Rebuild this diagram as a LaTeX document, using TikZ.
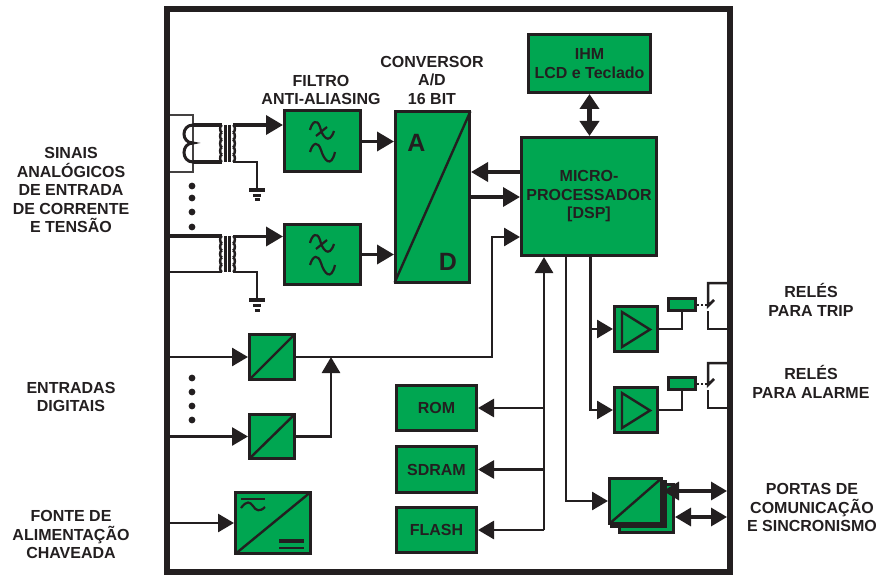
\documentclass[tikz,border=0pt]{standalone}
\usepackage{fontspec}
\setmainfont{Liberation Sans}
\usetikzlibrary{arrows.meta}
\definecolor{verde}{HTML}{00A651}
\definecolor{preto}{HTML}{231F20}
\tikzset{
	bloco/.style={draw=preto, fill=verde, line width=3pt, inner sep=0pt, text=preto, align=center, font=\fontsize{16}{18.5}\selectfont\bfseries},
	rotulo/.style={text=preto, align=center, inner sep=0pt, font=\fontsize{16}{18.5}\selectfont\bfseries},
	fio/.style={draw=preto, line width=2.8pt},
	fino/.style={draw=preto, line width=2.5pt},
	seta/.style={fio, -{Triangle[length=16pt,width=18pt]}},
	setagrande/.style={fio, line width=3.6pt, -{Triangle[length=17pt,width=19pt]}},
	setadupla/.style={fio, line width=3.4pt, {Triangle[length=16pt,width=18pt]}-{Triangle[length=16pt,width=18pt]}},
	diag/.style={draw=preto, line width=2.4pt, shorten <=1.5pt, shorten >=1.5pt},
	ponto/.style={circle, fill=preto, inner sep=0pt, minimum size=6.8pt},
}
\begin{document}
\begin{tikzpicture}[x=1pt, y=-1pt]
	\useasboundingbox (0,0) rectangle (879,575);
	%Quadro externo
	\node[draw=preto, line width=6pt, inner sep=0pt, minimum width=563pt, minimum height=562pt] (QUADRO) at (448.5,290.5) {};
	%Blocos do diagrama
	\node[bloco, minimum width=76pt, minimum height=61pt] (FILT1) at (322.5,141.5) {};
	\node[bloco, minimum width=76pt, minimum height=60pt] (FILT2) at (322.5,254.5) {};
	\node[bloco, minimum width=74pt, minimum height=171pt] (AD) at (432.5,197) {};
	\node[bloco, minimum width=135pt, minimum height=118pt] (DSP) at (589,196.5) {MICRO-\\PROCESSADOR\\{[DSP]}};
	\node[bloco, minimum width=122pt, minimum height=58pt] (IHM) at (589.5,63.5) {IHM\\LCD e Teclado};
	\node[bloco, minimum width=80pt, minimum height=45pt] (ROM) at (436.5,408) {ROM};
	\node[bloco, minimum width=80pt, minimum height=46pt] (SDRAM) at (436.5,469.5) {SDRAM};
	\node[bloco, minimum width=80pt, minimum height=45pt] (FLASH) at (436.5,530) {FLASH};
	\node[bloco, minimum width=45pt, minimum height=45pt] (ED1) at (272,357) {};
	\node[bloco, minimum width=45pt, minimum height=44pt] (ED2) at (272,436.5) {};
	\node[bloco, minimum width=75pt, minimum height=61pt] (FONTE) at (273,523) {};
	\node[bloco, minimum width=43pt, minimum height=45pt] (AMP1) at (636,329) {};
	\node[bloco, minimum width=43pt, minimum height=45pt] (AMP2) at (636,410) {};
	\node[bloco, line width=3.5pt, minimum width=27pt, minimum height=12pt] (BOB1) at (682,304.5) {};
	\node[bloco, line width=3.5pt, minimum width=27pt, minimum height=12pt] (BOB2) at (682,383.5) {};
	\node[bloco, minimum width=54pt, minimum height=48pt] (PORTA3) at (646.5,508.5) {};
	\node[bloco, fill=preto, minimum width=54pt, minimum height=45pt] (PORTA2) at (638.5,504) {};
	\node[bloco, minimum width=52pt, minimum height=45pt] (PORTA) at (635.5,501) {};
	%Textos
	\node[rotulo] (TSINAIS) at (71,190) {SINAIS\\ANALÓGICOS\\DE ENTRADA\\DE CORRENTE\\E TENSÃO};
	\node[rotulo] (TFILTRO) at (321,90) {FILTRO\\ANTI-ALIASING};
	\node[rotulo] (TCONV) at (432,80) {CONVERSOR\\A/D\\16 BIT};
	\node[rotulo] (TDIG) at (71,397) {ENTRADAS\\DIGITAIS};
	\node[rotulo] (TFONTE) at (71,534.5) {FONTE DE\\ALIMENTAÇÃO\\CHAVEADA};
	\node[rotulo] (TTRIP) at (811,300) {RELÉS\\PARA TRIP};
	\node[rotulo] (TALARME) at (811,382) {RELÉS\\PARA ALARME};
	\node[rotulo] (TPORTAS) at (812,507.5) {PORTAS DE\\COMUNICAÇÃO\\E SINCRONISMO};
	\node[rotulo, font=\fontsize{25}{25}\selectfont\bfseries] (TA) at (416.5,143) {A};
	\node[rotulo, font=\fontsize{25}{25}\selectfont\bfseries] (TD) at (448,262) {D};
	%Pontos
	\foreach \nome/\px/\py in {P1/192/186, P2/192/198, P3/192/212, P4/192/227, P5/192/378, P6/192/392, P7/192/406, P8/192/420}
		\node[ponto] (\nome) at (\px,\py) {};
	%Diagonais dos conversores
	\draw[diag] (AD.south west) -- (AD.north east);
	\draw[diag] (ED1.south west) -- (ED1.north east);
	\draw[diag] (ED2.south west) -- (ED2.north east);
	\draw[diag] (FONTE.south west) -- (FONTE.north east);
	\draw[diag] (PORTA.south west) -- (PORTA.north east);
	%Simbolos da fonte
	\draw[preto, line width=2.2pt] (241,499) -- (265,499);
	\draw[preto, line width=2.2pt] (241,508) .. controls (247,500) and (250,502) .. (253,506) .. controls (256,511) and (260,512) .. (265,507);
	\draw[preto, line width=3.8pt] (279,541) -- (304,541);
	\draw[preto, line width=2.8pt] (279,548) -- (304,548);
	%Simbolos dos filtros
	\foreach \yf in {0,113} {
		\draw[preto, line width=2.2pt] (310,130+\yf) .. controls (312,122+\yf) and (317,118+\yf) .. (320,127+\yf) .. controls (322,136+\yf) and (329,146+\yf) .. (334,131+\yf);
		\draw[preto, line width=2.2pt] (316,136+\yf) -- (327,127+\yf);
		\draw[preto, line width=2.2pt] (310,152+\yf) .. controls (313,142+\yf) and (318,141+\yf) .. (321,150+\yf) .. controls (324,160+\yf) and (331,169+\yf) .. (335,152+\yf);
	}
	%Triangulos dos amplificadores
	\foreach \ya in {0,81}
		\draw[preto, line width=2.4pt, line join=miter] (622,312+\ya) -- (650,329.5+\ya) -- (622,347+\ya) -- cycle;
	%Transformadores
	\coordinate (CT1) at (170,115);
	\coordinate (CT2) at (170,172);
	\draw[draw=preto!85, line width=2pt] (CT1) -| (193,172) -- (CT2);
	\draw[preto, line width=3pt] (193,125) .. controls (181,125) and (181,143) .. (193,143) .. controls (181,143) and (181,162) .. (193,162);
	\foreach \yt/\yb in {125/162,236/272} {
		\draw[preto, line width=2.2pt] (225.5,\yt) -- (225.5,\yb);
		\draw[preto, line width=2.2pt] (229.5,\yt) -- (229.5,\yb);
		\foreach \i in {0,...,4} {
			\draw[preto, line width=2.5pt] (222,{\yt+\i*(\yb-\yt)/5}) .. controls (219.5,{\yt+\i*(\yb-\yt)/5}) and (219.5,{\yt+(\i+1)*(\yb-\yt)/5}) .. (222,{\yt+(\i+1)*(\yb-\yt)/5});
			\draw[preto, line width=2.5pt] (233,{\yt+\i*(\yb-\yt)/5}) .. controls (235.5,{\yt+\i*(\yb-\yt)/5}) and (235.5,{\yt+(\i+1)*(\yb-\yt)/5}) .. (233,{\yt+(\i+1)*(\yb-\yt)/5});
		}
	}
	%Fios de entrada
	\draw[fio, line width=3.4pt] (193,125) -- (222,125);
	\draw[fio, line width=3.4pt] (193,162) -- (222,162);
	\coordinate (E1) at (170,236);
	\coordinate (E2) at (170,272);
	\draw[fio, line width=3.4pt] (E1) -- (222,236);
	\draw[fio] (E2) -- (222,272);
	\draw[setagrande] (233,125) -- (FILT1.west |- 0,125);
	\draw[setagrande] (233,236.5) -- (FILT2.west |- 0,236.5);
	%Terras
	\foreach \xg/\yg/\yh in {257/162/188,257/272/298} {
		\draw[fio] (233,\yg) -| (\xg,\yh);
		\draw[preto, line width=4.5pt] (\xg-8,\yh+2) -- (\xg+8,\yh+2);
		\draw[preto, line width=3pt] (\xg-4,\yh+7.5) -- (\xg+4,\yh+7.5);
		\draw[preto, line width=3pt] (\xg-2.5,\yh+12) -- (\xg+2.5,\yh+12);
	}
	%Ligacoes dos blocos
	\draw[setagrande] (FILT1.east) -- (AD.west |- FILT1.east);
	\draw[setagrande] (FILT2.east) -- (AD.west |- FILT2.east);
	\draw[setagrande] (DSP.west |- 0,172) -- (AD.east |- 0,172);
	\draw[setagrande] (AD.east |- 0,197) -- (DSP.west |- 0,197);
	\draw[setadupla, line width=4.5pt, {Triangle[length=15pt,width=19pt]}-{Triangle[length=15pt,width=19pt]}] (IHM.south) -- (DSP.north -| IHM.south);
	\draw[seta] (ED1.east) -| (492,237) -- (DSP.west |- 0,237);
	\draw[seta] (ED2.east) -| (331,357);
	\coordinate (IN1) at (170,357);
	\coordinate (IN2) at (170,436.5);
	\coordinate (IN3) at (170,523);
	\draw[seta] (IN1) -- (ED1.west);
	\draw[seta] (IN2) -- (ED2.west);
	\draw[seta] (IN3) -- (FONTE.west);
	%Barramento
	\coordinate (BUS) at (544,530);
	\draw[seta] (BUS) -- (DSP.south -| BUS);
	\draw[seta] (BUS |- ROM.east) -- (ROM.east);
	\draw[seta] (BUS |- SDRAM.east) -- (SDRAM.east);
	\draw[seta] (BUS) -- (FLASH.east);
	%Saidas do processador
	\draw[seta] (DSP.south -| 566,0) |- (PORTA.west);
	\draw[seta] (DSP.south -| 590.5,0) |- (AMP2.west);
	\draw[seta] (590.5,329) -- (AMP1.west);
	\draw[fio] (AMP1.east) -| (BOB1.south);
	\draw[fio] (AMP2.east) -| (BOB2.south);
	%Contatos dos reles
	\draw[fino] (730,283) -- (708,283) -- (708,306) -- (714,300);
	\draw[fino] (708,311) -- (708,329) -- (730,329);
	\draw[fino] (730,363) -- (708,363) -- (708,385) -- (714,379);
	\draw[fino] (708,390) -- (708,408) -- (730,408);
	\draw[preto, line width=2pt, dash pattern=on 2pt off 2pt] (BOB1.east) -- (709,304.5);
	\draw[preto, line width=2pt, dash pattern=on 2pt off 2pt] (BOB2.east) -- (709,383.5);
	%Portas
	\coordinate (S1) at (727,491);
	\coordinate (S2) at (727,517);
	\draw[setadupla] (PORTA.east |- S1) -- (S1);
	\draw[setadupla] (PORTA3.east |- S2) -- (S2);
\end{tikzpicture}
\end{document}
